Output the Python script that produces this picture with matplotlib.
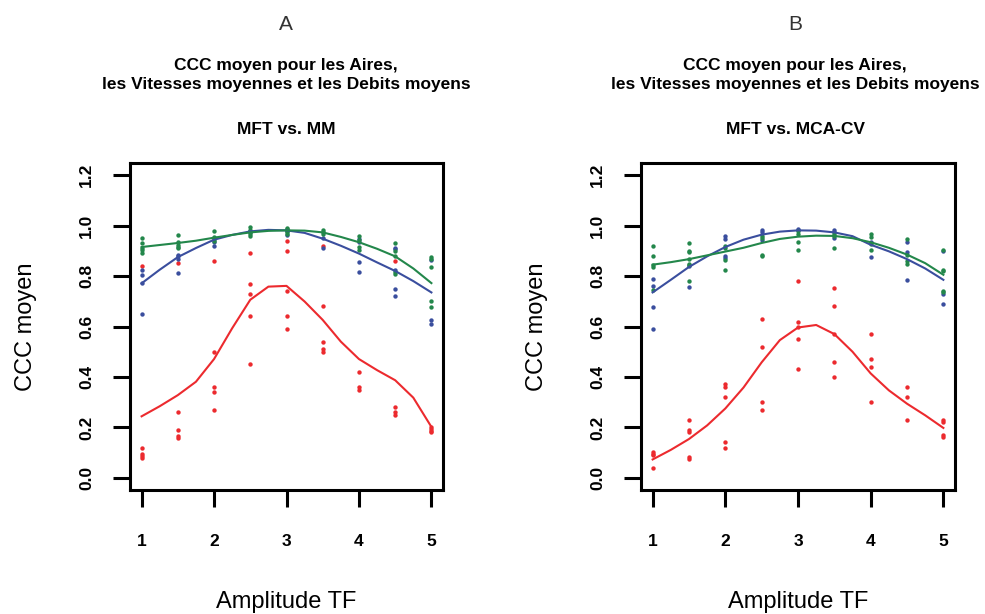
import matplotlib
matplotlib.use("Agg")
import matplotlib.pyplot as plt
import numpy as np

plt.rcParams['font.family'] = ['Liberation Sans', 'DejaVu Sans']

amp = [1, 1.5, 2, 2.5, 3, 3.5, 4, 4.5, 5]
curve_x = [1, 1.25, 1.5, 1.75, 2, 2.25, 2.5, 2.75, 3, 3.25, 3.5, 3.75, 4, 4.25, 4.5, 4.75, 5]

# panel A : MFT vs. MM (points per amplitude level)
a_red = [[0.84, 0.12, 0.093, 0.085, 0.08], [0.85, 0.26, 0.19, 0.168, 0.159],
         [0.86, 0.50, 0.36, 0.34, 0.27], [0.89, 0.77, 0.73, 0.64, 0.45],
         [0.94, 0.90, 0.74, 0.64, 0.59], [0.92, 0.68, 0.54, 0.51, 0.50],
         [0.42, 0.36, 0.35], [0.86, 0.28, 0.26, 0.25], [0.20, 0.194, 0.186, 0.18]]
a_blue = [[0.825, 0.806, 0.771, 0.65], [0.885, 0.878, 0.869, 0.814], [0.934, 0.92],
          [0.98, 0.973], [0.984, 0.963], [0.95, 0.91], [0.948, 0.934, 0.855, 0.817],
          [0.911, 0.907, 0.825, 0.749, 0.721], [0.862, 0.625, 0.611]]
a_green = [[0.95, 0.93, 0.91, 0.902, 0.891], [0.964, 0.934, 0.924, 0.915, 0.91],
           [0.979, 0.955, 0.947, 0.94], [0.993, 0.984, 0.976, 0.968, 0.958],
           [0.99, 0.987, 0.98, 0.973, 0.968], [0.984, 0.976, 0.968],
           [0.959, 0.944, 0.915, 0.905], [0.931, 0.90, 0.878, 0.816, 0.81],
           [0.875, 0.869, 0.836, 0.70, 0.678]]
a_red_fit = [0.244, 0.284, 0.328, 0.381, 0.471, 0.593, 0.706, 0.758, 0.761, 0.699,
             0.626, 0.540, 0.471, 0.427, 0.387, 0.318, 0.202]
a_blue_fit = [0.771, 0.825, 0.875, 0.911, 0.944, 0.963, 0.977, 0.983, 0.981, 0.971,
              0.948, 0.920, 0.889, 0.854, 0.820, 0.780, 0.735]
a_green_fit = [0.915, 0.923, 0.931, 0.940, 0.952, 0.963, 0.973, 0.979, 0.981, 0.980,
               0.973, 0.955, 0.934, 0.908, 0.878, 0.830, 0.772]

# panel B : MFT vs. MCA-CV
b_red = [[0.102, 0.095, 0.089, 0.04], [0.231, 0.191, 0.182, 0.082, 0.073],
         [0.374, 0.361, 0.32, 0.141, 0.119], [0.63, 0.52, 0.30, 0.271],
         [0.781, 0.619, 0.60, 0.55, 0.43], [0.751, 0.682, 0.572, 0.46, 0.401],
         [0.572, 0.471, 0.44, 0.30], [0.361, 0.32, 0.231], [0.231, 0.221, 0.171, 0.162]]
b_blue = [[0.79, 0.761, 0.676, 0.59], [0.84, 0.755], [0.96, 0.947, 0.878, 0.871],
          [0.981, 0.973, 0.944], [0.988, 0.981], [0.984, 0.973, 0.95], [0.936, 0.875],
          [0.935, 0.894, 0.785], [0.898, 0.728, 0.69]]
b_green = [[0.918, 0.878, 0.845, 0.836, 0.745], [0.931, 0.90, 0.895, 0.867, 0.847, 0.842, 0.779],
           [0.918, 0.911, 0.865, 0.824], [0.96, 0.951, 0.885, 0.878],
           [0.977, 0.968, 0.936, 0.905], [0.968, 0.96, 0.912], [0.966, 0.955, 0.928, 0.905],
           [0.948, 0.885, 0.858, 0.847], [0.905, 0.825, 0.818, 0.741, 0.736]]
b_red_fit = [0.073, 0.111, 0.154, 0.208, 0.275, 0.358, 0.458, 0.546, 0.596, 0.606,
             0.570, 0.500, 0.414, 0.347, 0.294, 0.248, 0.198]
b_blue_fit = [0.735, 0.785, 0.836, 0.878, 0.915, 0.944, 0.964, 0.976, 0.981, 0.980,
              0.973, 0.958, 0.924, 0.898, 0.867, 0.830, 0.785]
b_green_fit = [0.845, 0.855, 0.867, 0.882, 0.897, 0.912, 0.931, 0.947, 0.956, 0.960,
               0.959, 0.950, 0.934, 0.912, 0.885, 0.851, 0.805]

RED, BLUE, GREEN = '#EC2A2E', '#3A4E9E', '#23874B'


def flat(groups):
    xs = np.concatenate([[a] * len(g) for a, g in zip(amp, groups)])
    ys = np.concatenate(groups)
    return xs, ys


def panel(ax, pts, fits):
    for groups, col in zip(pts, [RED, BLUE, GREEN]):
        xs, ys = flat(groups)
        ax.scatter(xs, ys, s=10, color=col, linewidths=0, zorder=3)
    for fy, col in zip(fits, [RED, BLUE, GREEN]):
        ax.plot(curve_x, fy, color=col, lw=1.5, zorder=4)
    ax.set_xlim(0.84, 5.16)
    ax.set_ylim(-0.048, 1.248)
    ax.set_xticks([1, 2, 3, 4, 5])
    ax.set_yticks([0.0, 0.2, 0.4, 0.6, 0.8, 1.0, 1.2])
    ax.set_yticklabels(['0.0', '0.2', '0.4', '0.6', '0.8', '1.0', '1.2'],
                       rotation=90, va='center')
    ax.tick_params(axis='both', length=12, width=2.2, labelsize=12.5)
    ax.tick_params(axis='x', pad=20)
    ax.tick_params(axis='y', pad=14)
    for lab in ax.get_xticklabels() + ax.get_yticklabels():
        lab.set_fontweight('bold')
    for sp in ax.spines.values():
        sp.set_linewidth(2.2)
    ax.set_xlabel('Amplitude TF', fontsize=17, labelpad=30)
    ax.set_ylabel('CCC moyen', fontsize=17, labelpad=30)


fig = plt.figure(figsize=(9.85, 6.14), dpi=100)
ax1 = fig.add_axes([130 / 985, 124 / 614, 313 / 985, 327 / 614])
ax2 = fig.add_axes([641 / 985, 124 / 614, 314 / 985, 327 / 614])

panel(ax1, [a_red, a_blue, a_green], [a_red_fit, a_blue_fit, a_green_fit])
panel(ax2, [b_red, b_blue, b_green], [b_red_fit, b_blue_fit, b_green_fit])

for cx, letter, sub in [(286 / 985, 'A', 'MFT vs. MM'), (795 / 985, 'B', 'MFT vs. MCA-CV')]:
    fig.text(cx, 1 - 25 / 614, letter, ha='center', va='center', fontsize=15, color='#333333')
    fig.text(cx, 1 - 75 / 614, 'CCC moyen pour les Aires,\nles Vitesses moyennes et les Debits moyens',
             ha='center', va='center', fontsize=12.5, fontweight='bold', linespacing=1.3)
    fig.text(cx, 1 - 130 / 614, sub, ha='center', va='center', fontsize=12.5, fontweight='bold')

fig.savefig('out.png', dpi=100)
